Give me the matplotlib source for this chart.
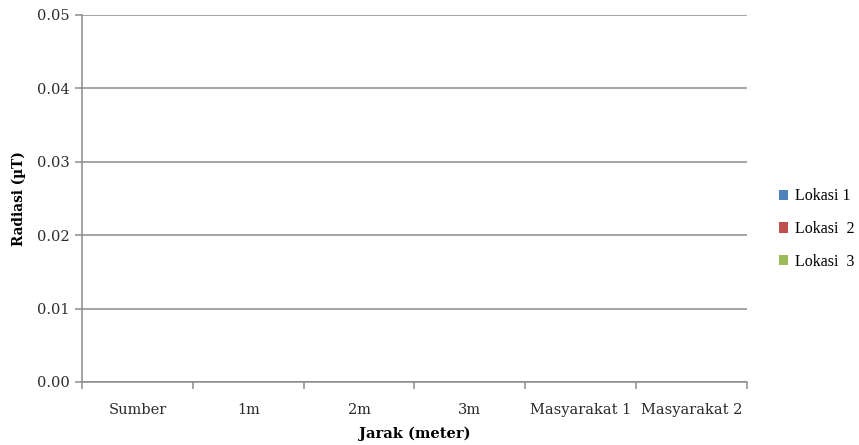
import numpy as np
import matplotlib
matplotlib.use("Agg")
import matplotlib.pyplot as plt
from matplotlib.patches import Patch

categories = ["Sumber", "1m", "2m", "3m", "Masyarakat 1", "Masyarakat 2"]
series_names = ["Lokasi 1", "Lokasi  2", "Lokasi  3"]
lokasi_1 = [0, 0, 0, 0, 0, 0]
lokasi_2 = [0, 0, 0, 0, 0, 0]
lokasi_3 = [0, 0, 0, 0, 0, 0]
y_ticks = [0.00, 0.01, 0.02, 0.03, 0.04, 0.05]

colors = ["#4F81BD", "#C0504D", "#9BBB59"]
grid_color = "#8C8C8C"
text_color = "#2B2B2B"

plt.rcParams["font.family"] = ["DejaVu Serif", "Liberation Serif"]

fig = plt.figure(figsize=(8.59, 4.45), dpi=100)
ax = fig.add_axes([0.0955, 0.1416, 0.774, 0.8247])

x = np.arange(len(categories))
width = 0.2
for i, (vals, name, c) in enumerate(zip([lokasi_1, lokasi_2, lokasi_3], series_names, colors)):
    ax.bar(x + (i - 1) * width, vals, width, color=c, label=name)

ax.set_xlim(-0.5, len(categories) - 0.5)
ax.set_ylim(0, 0.05)
ax.set_yticks(y_ticks)
ax.set_yticklabels([f"{v:.2f}" for v in y_ticks], fontsize=10.5, color=text_color)
ax.yaxis.grid(True, color=grid_color, linewidth=1.1)
ax.set_axisbelow(True)

# category labels centered, tick marks at category boundaries
ax.set_xticks(x)
ax.set_xticklabels(categories, fontsize=10.5, color=text_color)
ax.tick_params(axis="x", length=0, pad=15)
ax.set_xticks(np.arange(len(categories) + 1) - 0.5, minor=True)
ax.tick_params(axis="x", which="minor", length=5, color=grid_color, width=1.1)
ax.tick_params(axis="y", length=5, color=grid_color, width=1.1, pad=4)

for side in ["top", "right"]:
    ax.spines[side].set_visible(False)
for side in ["left", "bottom"]:
    ax.spines[side].set_color(grid_color)
    ax.spines[side].set_linewidth(1.1)

ax.set_ylabel("Radiasi (µT)", fontsize=9.8, fontweight="bold", labelpad=8, color="black")
ax.set_xlabel("Jarak (meter)", fontsize=10.5, fontweight="bold", labelpad=7, color="black")

handles = [Patch(facecolor=c, edgecolor="none") for c in colors]
fig.legend(handles, series_names, loc="center left", bbox_to_anchor=(0.890, 0.485),
           frameon=False, prop={"family": "Liberation Serif", "size": 11.5},
           handlelength=0.6, handleheight=0.6,
           handletextpad=0.4, labelspacing=1.05)

fig.savefig("out.png", dpi=100)
